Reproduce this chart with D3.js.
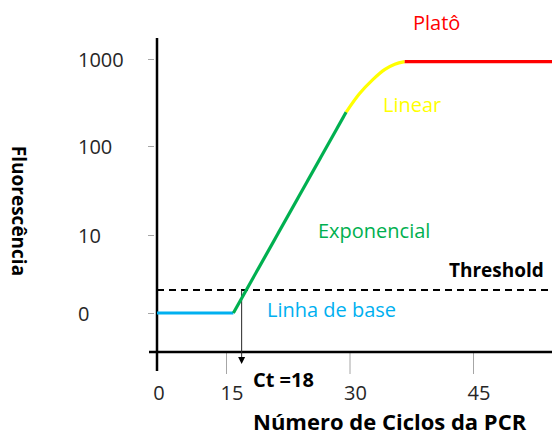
<!DOCTYPE html>
<html>
<head>
<meta charset="utf-8">
<script src="https://cdn.jsdelivr.net/npm/d3@7"></script>
<style>
  body { margin: 0; background: #fff; }
  text { font-family: "Open Sans", sans-serif; }
</style>
</head>
<body>
<script>
// cycles on x, "levels" on y (0 = baseline, 1 = 10, 2 = 100, 3 = 1000)
const yLevels = [0, 1, 2, 3];
const yLabels = ['0', '10', '100', '1000'];
const xTicks = [0, 15, 30, 45];

const baseline = [[0, 0], [15.9, 0]];
const exponential = [[15.9, 0], [29.6, 2.39]];
const linearPhase = [[29.6, 2.39], [31.2, 2.6], [32.8, 2.76], [34.3, 2.88], [35.5, 2.94], [36.7, 2.97]];
const plateau = [[36.7, 2.97], [54.6, 2.97]];
const threshold = 0.295;
const ctPos = 16.9;

const width = 552, height = 439;

const svg = d3.select('body').append('svg')
  .attr('width', width)
  .attr('height', height);

// the picture is a sketch: cycles and levels are not evenly spaced
const x = d3.scaleLinear().domain([0, 15, 45]).range([157, 226, 473]);
const y = d3.scaleLinear().domain([0, 1, 2, 3]).range([313, 235, 146, 59]);

const line = d3.line().x(d => x(d[0])).y(d => y(d[1]));

// y axis
const yAxis = svg.append('g')
  .attr('transform', `translate(${x(0)},0)`)
  .call(d3.axisLeft(y).tickValues(yLevels).tickFormat(i => yLabels[i]).tickSize(8).tickPadding(0));
yAxis.select('.domain').remove();
yAxis.selectAll('.tick line').attr('stroke', '#a6a6a6').attr('x2', -3).attr('x1', -9);
yAxis.selectAll('.tick text')
  .attr('x', 78 - x(0))
  .attr('text-anchor', 'start')
  .attr('dy', '0.36em')
  .attr('fill', '#262626')
  .style('font-size', '20px')
  .style('font-family', '"Open Sans", sans-serif');

// x axis
const xAxis = svg.append('g')
  .attr('transform', `translate(0,352)`)
  .call(d3.axisBottom(x).tickValues(xTicks.slice(1)).tickSize(22).tickFormat(''));
xAxis.select('.domain').remove();
xAxis.selectAll('.tick line').attr('stroke', '#a6a6a6');

svg.selectAll('.xlabel')
  .data(xTicks)
  .join('text')
  .attr('class', 'xlabel')
  .attr('x', d => x(d) + (d === 0 ? 2 : 6))
  .attr('y', 400)
  .attr('text-anchor', 'middle')
  .attr('fill', '#262626')
  .style('font-size', '20px')
  .text(d => d);

// axis lines
svg.append('line')
  .attr('x1', x(0)).attr('x2', x(0))
  .attr('y1', 38).attr('y2', 371)
  .attr('stroke', '#000').attr('stroke-width', 2.5);
svg.append('line')
  .attr('x1', 149).attr('x2', width)
  .attr('y1', 352).attr('y2', 352)
  .attr('stroke', '#000').attr('stroke-width', 2.5);

// threshold
svg.append('line')
  .attr('x1', x(0)).attr('x2', width)
  .attr('y1', y(threshold)).attr('y2', y(threshold))
  .attr('stroke', '#000').attr('stroke-width', 2)
  .attr('stroke-dasharray', '7,5');

// Ct arrow
svg.append('line')
  .attr('x1', x(ctPos)).attr('x2', x(ctPos))
  .attr('y1', y(threshold)).attr('y2', 358)
  .attr('stroke', '#262626').attr('stroke-width', 1);
svg.append('path')
  .attr('d', `M${x(ctPos) - 3.5},357 L${x(ctPos) + 3.5},357 L${x(ctPos)},364 Z`)
  .attr('fill', '#000');

// curve
const phases = [
  { data: baseline, color: '#00b0f0', curve: d3.curveLinear },
  { data: exponential, color: '#00b050', curve: d3.curveLinear },
  { data: linearPhase, color: '#ffff00', curve: d3.curveMonotoneX },
  { data: plateau, color: '#ff0000', curve: d3.curveLinear }
];
svg.selectAll('.phase')
  .data(phases)
  .join('path')
  .attr('class', 'phase')
  .attr('d', p => line.curve(p.curve)(p.data))
  .attr('fill', 'none')
  .attr('stroke', p => p.color)
  .attr('stroke-width', 3.2)
  .attr('stroke-linecap', 'butt');

// labels
const labels = [
  { text: 'Platô', x: 413, y: 30, color: '#ff0000', size: 20, weight: 400 },
  { text: 'Linear', x: 383, y: 112, color: '#ffff00', size: 20, weight: 400 },
  { text: 'Exponencial', x: 318, y: 238, color: '#00b050', size: 20, weight: 400 },
  { text: 'Threshold', x: 449, y: 277, color: '#000', size: 19, weight: 700 },
  { text: 'Linha de base', x: 267, y: 317, color: '#00b0f0', size: 20, weight: 400 },
  { text: 'Ct =18', x: 253, y: 387, color: '#000', size: 20, weight: 700 },
  { text: 'Número de Ciclos da PCR', x: 253, y: 430, color: '#000', size: 22, weight: 700 }
];
svg.selectAll('.label')
  .data(labels)
  .join('text')
  .attr('class', 'label')
  .attr('x', d => d.x)
  .attr('y', d => d.y)
  .attr('fill', d => d.color)
  .style('font-size', d => d.size + 'px')
  .style('font-weight', d => d.weight)
  .text(d => d.text);

svg.append('text')
  .attr('transform', 'translate(12,211) rotate(90)')
  .attr('text-anchor', 'middle')
  .style('font-size', '19px')
  .style('font-weight', 700)
  .attr('fill', '#000')
  .text('Fluorescência');
</script>
</body>
</html>
